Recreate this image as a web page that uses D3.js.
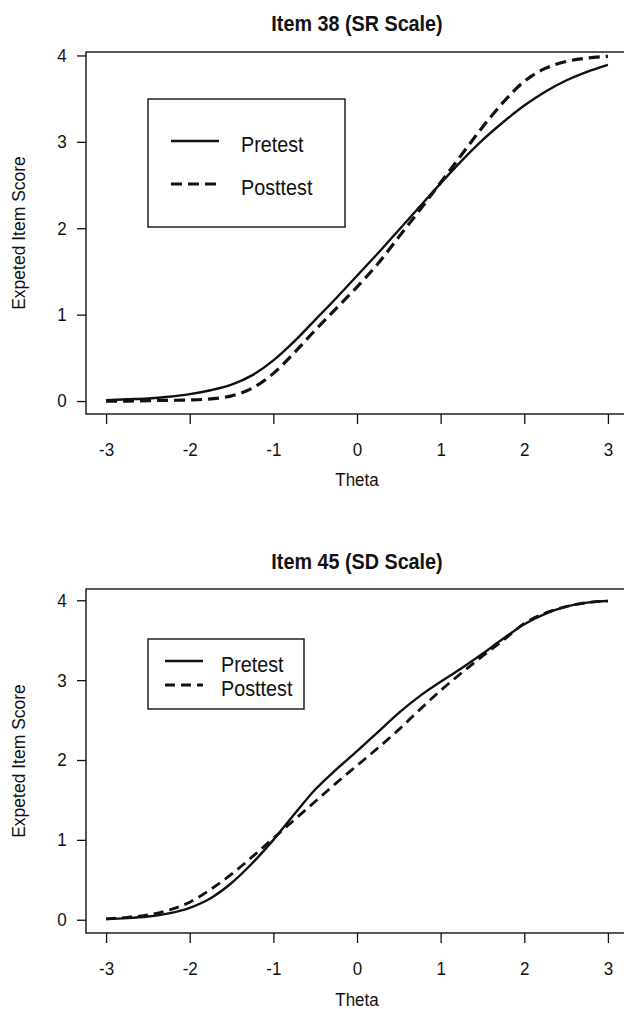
<!DOCTYPE html>
<html>
<head>
<meta charset="utf-8">
<script src="https://cdn.jsdelivr.net/npm/d3@7"></script>
<style>
body { margin: 0; background: #fff; }
svg { display: block; }
text { font-family: "Liberation Sans", Arial, Helvetica, sans-serif; fill: #111; }
</style>
</head>
<body>
<script>
// expected item score curves at steps of 0.25 theta
var theta = [-3, -2.75, -2.5, -2.25, -2, -1.75, -1.5, -1.25, -1, -0.75, -0.5, -0.25,
  0, 0.25, 0.5, 0.75, 1, 1.25, 1.5, 1.75, 2, 2.25, 2.5, 2.75, 3];

var pre38 = [0.01, 0.02, 0.03, 0.05, 0.08, 0.125, 0.19, 0.30, 0.47, 0.69, 0.94, 1.19,
  1.45, 1.71, 1.98, 2.25, 2.52, 2.78, 3.02, 3.23, 3.42, 3.58, 3.71, 3.81, 3.89];
var post38 = [0.0, 0.0, 0.005, 0.008, 0.012, 0.025, 0.06, 0.15, 0.32, 0.56, 0.82, 1.07,
  1.32, 1.59, 1.90, 2.21, 2.53, 2.85, 3.17, 3.46, 3.70, 3.85, 3.93, 3.97, 3.99];

var pre45 = [0.01, 0.02, 0.04, 0.08, 0.15, 0.27, 0.46, 0.71, 1.0, 1.32, 1.63, 1.88,
  2.11, 2.35, 2.59, 2.80, 2.98, 3.15, 3.33, 3.52, 3.70, 3.83, 3.92, 3.97, 3.99];
var post45 = [0.01, 0.03, 0.06, 0.12, 0.22, 0.38, 0.57, 0.79, 1.02, 1.25, 1.48, 1.71,
  1.93, 2.15, 2.38, 2.63, 2.87, 3.09, 3.30, 3.50, 3.71, 3.84, 3.92, 3.97, 3.99];

var xTicks = [-3, -2, -1, 0, 1, 2, 3];
var yTicks = [0, 1, 2, 3, 4];
var seriesNames = ['Pretest', 'Posttest'];
var titles = ['Item 38 (SR Scale)', 'Item 45 (SD Scale)'];
var xLabel = 'Theta';
var yLabel = 'Expeted Item Score';

var W = 624, H = 1009;
var ink = '#111';
var squeeze = 0.92; // the original lettering is a little narrow

var svg = d3.select('body').append('svg')
  .attr('width', W)
  .attr('height', H)
  .style('background', '#fff');

// both panels share the same x layout (right border falls just off the picture)
var x = d3.scaleLinear().domain([-3.24, 3.24]).range([86, 628]);

function label(g, px, py, s, size, weight, anchor) {
  return g.append('text')
    .attr('transform', 'translate(' + px + ',' + py + ') scale(' + squeeze + ',1)')
    .attr('text-anchor', anchor || 'middle')
    .attr('font-size', size)
    .attr('font-weight', weight || 'normal')
    .text(s);
}

function panel(p) {
  var g = svg.append('g');
  var y = d3.scaleLinear().domain(p.yDomain).range([p.bottom, p.top]);

  // x axis
  var gx = g.append('g')
    .attr('transform', 'translate(0,' + p.bottom + ')')
    .style('color', ink)
    .call(d3.axisBottom(x).tickValues(xTicks).tickSize(10).tickPadding(19)
      .tickFormat(function (d) { return String(d); }));
  gx.select('.domain').remove();
  gx.selectAll('line').attr('stroke-width', 1.3);
  gx.selectAll('text').attr('font-size', 18.5).attr('transform', 'scale(' + squeeze + ',1)');

  // y axis
  var gy = g.append('g')
    .attr('transform', 'translate(' + x.range()[0] + ',0)')
    .style('color', ink)
    .call(d3.axisLeft(y).tickValues(yTicks).tickSize(9).tickPadding(12)
      .tickFormat(function (d) { return String(d); }));
  gy.select('.domain').remove();
  gy.selectAll('line').attr('stroke-width', 1.3);
  gy.selectAll('text').attr('font-size', 18.5).attr('transform', 'scale(' + squeeze + ',1)');

  // plot box
  g.append('rect')
    .attr('x', x.range()[0])
    .attr('y', p.top)
    .attr('width', x.range()[1] - x.range()[0])
    .attr('height', p.bottom - p.top)
    .attr('fill', 'none')
    .attr('stroke', ink)
    .attr('stroke-width', 1.4);

  // curves
  var line = d3.line()
    .x(function (d) { return x(d[0]); })
    .y(function (d) { return y(d[1]); })
    .curve(d3.curveMonotoneX);

  g.append('path')
    .datum(d3.zip(theta, p.pre))
    .attr('d', line)
    .attr('fill', 'none')
    .attr('stroke', ink)
    .attr('stroke-width', 2.4);

  g.append('path')
    .datum(d3.zip(theta, p.post))
    .attr('d', line)
    .attr('fill', 'none')
    .attr('stroke', ink)
    .attr('stroke-width', p.dashWidth)
    .attr('stroke-dasharray', p.dash);

  // titles
  label(g, (x.range()[0] + x.range()[1]) / 2, p.titleY, p.title, 21.5, 'bold');
  label(g, (x.range()[0] + x.range()[1]) / 2, p.xLabelY, xLabel, 18.5);
  g.append('text')
    .attr('transform', 'translate(25,' + (p.top + p.bottom) / 2 + ') rotate(-90)')
    .attr('text-anchor', 'middle')
    .attr('font-size', 17.5)
    .text(yLabel);

  // legend
  var L = p.legend;
  g.append('rect')
    .attr('x', L.x).attr('y', L.y)
    .attr('width', L.w).attr('height', L.h)
    .attr('fill', '#fff')
    .attr('stroke', ink)
    .attr('stroke-width', 1.4);

  seriesNames.forEach(function (name, i) {
    var ly = L.rows[i];
    g.append('line')
      .attr('x1', L.x1).attr('x2', L.x2)
      .attr('y1', ly).attr('y2', ly)
      .attr('stroke', ink)
      .attr('stroke-width', i === 0 ? 2.4 : p.dashWidth)
      .attr('stroke-dasharray', i === 0 ? null : p.dash);
    label(g, L.tx, ly + 10.5, name, 21.5, 'normal', 'start');
  });
}

panel({
  title: titles[0], pre: pre38, post: post38,
  top: 52, bottom: 414, yDomain: [-0.15, 4.04],
  titleY: 31, xLabelY: 486,
  dash: '11,6', dashWidth: 3.2,
  legend: { x: 148, y: 99, w: 197, h: 128, x1: 171, x2: 219, tx: 241, rows: [141, 184] }
});

panel({
  title: titles[1], pre: pre45, post: post45,
  top: 589, bottom: 933, yDomain: [-0.166, 4.141],
  titleY: 569, xLabelY: 1006,
  dash: '10,6', dashWidth: 2.8,
  legend: { x: 148, y: 639, w: 156, h: 70, x1: 165, x2: 203, tx: 221, rows: [661, 685] }
});
</script>
</body>
</html>
